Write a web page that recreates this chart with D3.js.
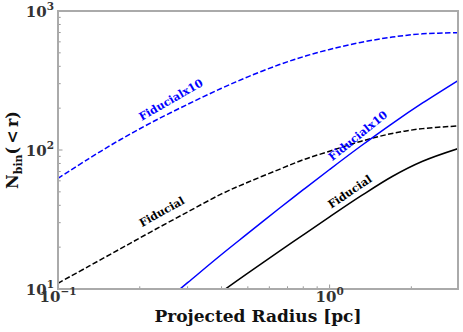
<!DOCTYPE html>
<html>
<head>
<meta charset="utf-8">
<script src="https://cdn.jsdelivr.net/npm/d3@7"></script>
<style>
  body { margin: 0; background: #fff; }
  text { font-family: 'DejaVu Serif', serif; font-weight: bold; }
</style>
</head>
<body>
<div id="chart"></div>
<script>
// projected radius grid (pc)
const radius = [0.1, 0.13, 0.17, 0.22, 0.3, 0.4, 0.5, 0.65, 0.8, 1.0, 1.3, 1.7, 2.2, 3.0]

// cumulative binary counts N_bin(<r)
const fiducialX10Dashed = [62.5, 86.8, 119, 157, 213, 278, 336, 410, 469, 529, 594, 649, 685, 698]
const fiducialDashed = [11.0, 14.6, 19.5, 25.8, 35.8, 48.3, 58.6, 72.3, 85.1, 98, 115.3, 131.5, 142.5, 149]
const fiducialX10Solid = [null, null, null, 6.7, 11.1, 17.7, 25.1, 37.8, 51.8, 72.4, 106.4, 155, 218, 320]
const fiducialSolid = [null, null, null, null, 6.4, 9.55, 13.0, 18.6, 24.5, 33.0, 46.5, 64.5, 83, 103]

const xTickValues = [0.1, 1]
const xTickExp = ['\u22121', '0']
const yTickValues = [10, 100, 1000]
const yTickExp = ['1', '2', '3']

const series = [
  { name: 'Fiducialx10', values: fiducialX10Dashed, color: '#0000ff', dash: '5.5,2.4' },
  { name: 'Fiducial', values: fiducialDashed, color: '#000000', dash: '5.5,2.4' },
  { name: 'Fiducialx10', values: fiducialX10Solid, color: '#0000ff', dash: null },
  { name: 'Fiducial', values: fiducialSolid, color: '#000000', dash: null }
]

// rotated labels sitting on the curves
const labels = [
  { text: 'Fiducialx10', x: 171, y: 100, angle: -30, color: '#0000ff' },
  { text: 'Fiducial', x: 162, y: 212, angle: -29, color: '#000000' },
  { text: 'Fiducialx10', x: 358, y: 136, angle: -39, color: '#0000ff' },
  { text: 'Fiducial', x: 350, y: 192, angle: -34, color: '#000000' }
]

const width = 463
const height = 332
const margin = { left: 58, right: 5, top: 11, bottom: 43 }

const svg = d3.select('#chart')
  .append('svg')
  .attr('width', width)
  .attr('height', height)

const x = d3.scaleLog()
  .domain([0.1, 2.97])
  .range([margin.left, width - margin.right])
const y = d3.scaleLog()
  .domain([10, 1000])
  .range([height - margin.bottom, margin.top])

svg.append('clipPath')
  .attr('id', 'plot-clip')
  .append('rect')
  .attr('x', margin.left)
  .attr('y', margin.top)
  .attr('width', width - margin.left - margin.right)
  .attr('height', height - margin.top - margin.bottom)

// minor + major ticks, pointing inward
const xMinor = []
;[0.1, 1].forEach(b => {
  for (let k = 2; k <= 9; k++) {
    if (b * k <= 2.97) xMinor.push(b * k)
  }
})
const yMinor = []
;[10, 100].forEach(b => {
  for (let k = 2; k <= 9; k++) yMinor.push(b * k)
})

const ticks = svg.append('g').attr('stroke', '#999').attr('stroke-width', 1)
xMinor.forEach(v => {
  ticks.append('line')
    .attr('x1', x(v)).attr('x2', x(v))
    .attr('y1', y(10)).attr('y2', y(10) - 2.7)
})
xTickValues.forEach(v => {
  ticks.append('line')
    .attr('x1', x(v)).attr('x2', x(v))
    .attr('y1', y(10)).attr('y2', y(10) - 4.5)
})
yMinor.forEach(v => {
  ticks.append('line')
    .attr('x1', x(0.1)).attr('x2', x(0.1) + 2.7)
    .attr('y1', y(v)).attr('y2', y(v))
})
yTickValues.forEach(v => {
  ticks.append('line')
    .attr('x1', x(0.1)).attr('x2', x(0.1) + 4.5)
    .attr('y1', y(v)).attr('y2', y(v))
})

const line = d3.line()
  .defined(d => d.n != null)
  .x(d => x(d.r))
  .y(d => y(d.n))
  .curve(d3.curveCatmullRom.alpha(0.5))

const plot = svg.append('g').attr('clip-path', 'url(#plot-clip)')
series.forEach(s => {
  const pts = radius.map((r, i) => ({ r: r, n: s.values[i] }))
  plot.append('path')
    .datum(pts)
    .attr('d', line)
    .attr('fill', 'none')
    .attr('stroke', s.color)
    .attr('stroke-width', 1.5)
    .attr('stroke-dasharray', s.dash)
})

labels.forEach(l => {
  svg.append('text')
    .attr('transform', `translate(${l.x},${l.y}) rotate(${l.angle})`)
    .attr('text-anchor', 'middle')
    .attr('dominant-baseline', 'central')
    .attr('font-size', 11)
    .attr('fill', l.color)
    .text(l.text)
})

// frame
svg.append('rect')
  .attr('x', margin.left)
  .attr('y', margin.top)
  .attr('width', width - margin.left - margin.right)
  .attr('height', height - margin.top - margin.bottom)
  .attr('fill', 'none')
  .attr('stroke', '#aaa')
  .attr('stroke-width', 2)

// tick labels as 10^n
xTickValues.forEach((v, i) => {
  const t = svg.append('text')
    .attr('x', x(v))
    .attr('y', y(10) + 13)
    .attr('text-anchor', 'middle')
    .attr('font-size', 15)
    .attr('fill', '#333')
  t.append('tspan').text('10')
  t.append('tspan').attr('dy', -7).attr('font-size', 10.5).text(xTickExp[i])
})
yTickValues.forEach((v, i) => {
  const t = svg.append('text')
    .attr('x', x(0.1) - 4)
    .attr('y', y(v) + 6)
    .attr('text-anchor', 'end')
    .attr('font-size', 15)
    .attr('fill', '#333')
  t.append('tspan').text('10')
  t.append('tspan').attr('dy', -7).attr('font-size', 10.5).text(yTickExp[i])
})

// axis titles
svg.append('text')
  .attr('x', (margin.left + width - margin.right) / 2)
  .attr('y', 322)
  .attr('text-anchor', 'middle')
  .attr('font-size', 17)
  .attr('fill', '#111')
  .text('Projected Radius [pc]')

const yl = svg.append('text')
  .attr('transform', `translate(17.5,${(margin.top + height - margin.bottom) / 2}) rotate(-90)`)
  .attr('text-anchor', 'middle')
  .attr('font-size', 16)
  .attr('fill', '#111')
yl.append('tspan').text('N')
yl.append('tspan').attr('dy', 4).attr('font-size', 11).text('bin')
yl.append('tspan').attr('dy', -4).text('(\u2009<\u2009r)')
</script>
</body>
</html>
